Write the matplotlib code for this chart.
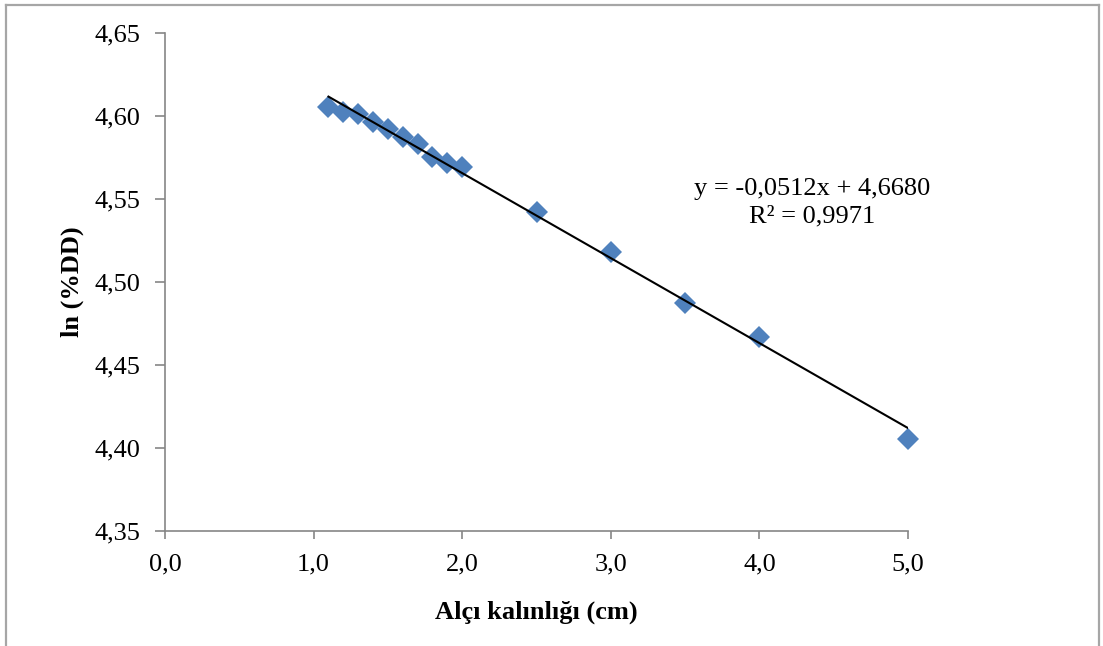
import matplotlib.pyplot as plt
from matplotlib.lines import Line2D
import numpy as np

# thickness (cm) and ln(%DD)
thickness = [1.1, 1.2, 1.3, 1.4, 1.5, 1.6, 1.7, 1.8, 1.9, 2.0, 2.5, 3.0, 3.5, 4.0, 5.0]
ln_dd = [4.6053, 4.6023, 4.6011, 4.5963, 4.5921, 4.5872, 4.5830, 4.5752,
         4.5715, 4.5691, 4.5420, 4.5178, 4.4876, 4.4671, 4.4055]

slope = -0.0512
intercept = 4.6680
r2 = 0.9971

x_ticks = [0.0, 1.0, 2.0, 3.0, 4.0, 5.0]
y_ticks = [4.35, 4.40, 4.45, 4.50, 4.55, 4.60, 4.65]

plt.rcParams['font.family'] = ['Liberation Serif', 'DejaVu Serif']

fig = plt.figure(figsize=(11.03, 6.46), dpi=100)
fig.patch.set_facecolor('white')
ax = fig.add_axes([165 / 1103, 1 - 531 / 646, 743 / 1103, 498 / 646])

# outer chart border (bottom edge runs off the image)
W, H = 1103, 646
border = dict(color='#a6a6a6', linewidth=1.6, transform=fig.transFigure)
fig.add_artist(Line2D([6 / W, 6 / W], [0, 1 - 5 / H], **border))
fig.add_artist(Line2D([6 / W, 1099 / W], [1 - 5 / H, 1 - 5 / H], **border))
fig.add_artist(Line2D([1099 / W, 1099 / W], [0, 1 - 5 / H], **border))

# trendline
xt = np.array([min(thickness), max(thickness)])
ax.plot(xt, slope * xt + intercept, color='black', linewidth=1.5, zorder=3)

ax.plot(thickness, ln_dd, linestyle='none', marker='D', markersize=11,
        color='#4f81bd', markeredgewidth=0, zorder=2, clip_on=False)

ax.set_xlim(0, 5)
ax.set_ylim(4.35, 4.65)
ax.set_xticks(x_ticks)
ax.set_yticks(y_ticks)
ax.set_xticklabels([f"{v:.1f}".replace('.', ',') for v in x_ticks])
ax.set_yticklabels([f"{v:.2f}".replace('.', ',') for v in y_ticks])

for side in ['top', 'right']:
    ax.spines[side].set_visible(False)
for side in ['left', 'bottom']:
    ax.spines[side].set_color('#868686')
    ax.spines[side].set_linewidth(1.2)
ax.tick_params(axis='both', colors='#868686', labelcolor='black', labelsize=19,
               width=1.2, direction='out')
ax.tick_params(axis='y', length=7, pad=11)
ax.tick_params(axis='x', length=6, pad=10)

ax.set_xlabel("Alçı kalınlığı (cm)", fontsize=19, fontweight='bold', labelpad=18)
ax.set_ylabel("ln (%DD)", fontsize=19, fontweight='bold', labelpad=7)

ax.text(0.871, 0.686, f"y = {slope:.4f}x + {intercept:.4f}".replace('.', ','),
        transform=ax.transAxes, ha='center', va='center', fontsize=19)
ax.text(0.871, 0.632, f"R² = {r2:.4f}".replace('.', ','),
        transform=ax.transAxes, ha='center', va='center', fontsize=19)

fig.savefig("out.png", dpi=100, facecolor='white')
